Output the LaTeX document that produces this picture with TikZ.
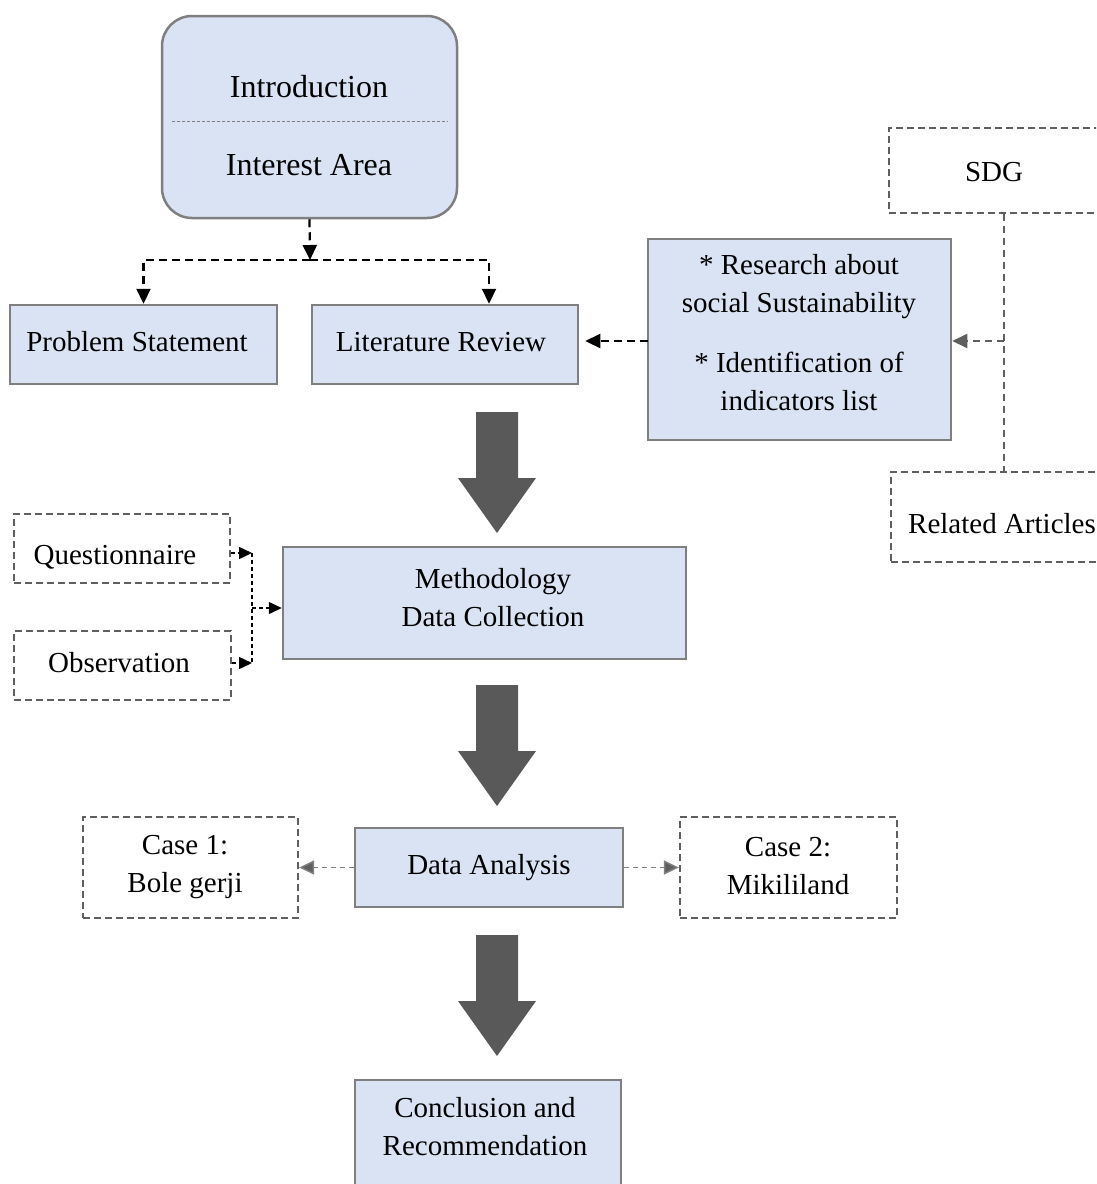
\documentclass[tikz,border=0pt]{standalone}
\usepackage{fontspec}
\setmainfont{Liberation Serif}
\usetikzlibrary{arrows.meta,calc}
\definecolor{boxfill}{HTML}{DAE3F3}
\definecolor{boxline}{HTML}{7F7F7F}
\definecolor{dashline}{HTML}{5F5F5F}
\definecolor{bigarrow}{HTML}{595959}
\begin{document}
\begin{tikzpicture}[x=1pt,y=-1pt,
  txt/.style={font=\fontsize{29}{38}\selectfont, align=center, inner sep=0pt},
  bigtxt/.style={font=\fontsize{32}{38}\selectfont, align=center, inner sep=0pt},
  box/.style={draw=boxline, fill=boxfill, line width=2.5pt, txt},
  dbox/.style={draw=dashline, line width=2.3pt, dash pattern=on 7pt off 4pt, txt},
  link/.style={line width=2.2pt, dash pattern=on 8pt off 5pt, -{Triangle[length=15pt,width=14pt]}},
  slink/.style={line width=1.5pt, dash pattern=on 4pt off 3pt, -{Triangle[length=13pt,width=12pt]}},
  glink/.style={draw=dashline, line width=1.8pt, dash pattern=on 7pt off 5pt, -{Triangle[length=15pt,width=14pt,fill=dashline]}},
  hlink/.style={draw=boxline, line width=1.5pt, dash pattern=on 5pt off 4pt, -{Triangle[length=15pt,width=14pt,fill=dashline]}},
  bigarr/.style={fill=bigarrow}]
\useasboundingbox (0,0) rectangle (1096,1184);
\clip (0,0) rectangle (1096,1184);

% Intro box
\node[box, rounded corners=30pt, minimum width=295pt, minimum height=202pt] (intro) at (309.5,117) {};
\node[bigtxt] (introA) at (309,87) {Introduction};
\node[bigtxt] (introB) at (309,165) {Interest Area};
\draw[boxline, line width=1pt, dash pattern=on 3pt off 2pt] ($(intro.west)+(11,4)$) coordinate (sepL) -- ($(intro.east)+(-11,4)$) coordinate (sepR);

% Second row
\node[box, minimum width=267pt, minimum height=79pt] (ps) at (143.5,344.5) {};
\node[txt] (psT) at (137,342) {Problem Statement};
\node[box, minimum width=266pt, minimum height=79pt] (lr) at (445,344.5) {};
\node[txt] (lrT) at (441,342) {Literature Review};
\node[box, minimum width=303pt, minimum height=201pt] (res) at (799.5,339.5) {};
\node[txt] (resT) at (799,333) {* Research about\\ social Sustainability\\[22pt] * Identification of\\ indicators list};
\node[dbox, minimum width=212pt, minimum height=85pt] (sdg) at (995,170.5) {};
\node[txt] (sdgT) at (994,172) {SDG};
\node[dbox, minimum width=222pt, minimum height=90pt] (rel) at (1002,517) {};
\node[txt] (relT) at (1002,524) {Related Articles};

% top connectors
\coordinate (j) at (310,260);
\draw[link] (intro.south) -- (j);
\draw[link] (j) -| (ps.north);
\draw[link] (j) -| ([xshift=44pt]lr.north);
\coordinate (r) at (648,341);
\draw[link, shorten >=6pt] (r) -- (r -| lr.east);
\coordinate (t) at (1004,341);
\draw[draw=dashline, line width=1.8pt, dash pattern=on 7pt off 5pt] (sdg.south -| t) -- (rel.north -| t);
\draw[glink] (t) -- (t -| res.east);

% Methodology
\node[box, minimum width=403pt, minimum height=112pt] (meth) at (484.5,603) {};
\node[txt] (methT) at (493,598) {Methodology\\ Data Collection};
\node[dbox, minimum width=216pt, minimum height=69pt] (q) at (122,548.5) {};
\node[txt] (qT) at (115,557) {Questionnaire};
\node[dbox, minimum width=217pt, minimum height=69pt] (o) at (122.5,665.5) {};
\node[txt] (oT) at (119,663) {Observation};
\coordinate (qa) at (252,553);
\coordinate (oa) at (252,663);
\coordinate (ma) at (252,608);
\draw[slink] (q.east |- qa) -- (qa);
\draw[slink] (o.east |- oa) -- (oa);
\draw[line width=1.5pt, dash pattern=on 4pt off 3pt] (qa) -- (oa);
\draw[slink] (ma) -- (meth.west |- ma);

% Data analysis
\node[box, minimum width=268pt, minimum height=79pt] (da) at (489,867.5) {Data Analysis};
\node[dbox, minimum width=215pt, minimum height=101pt] (c1) at (190.5,867.5) {};
\node[txt] (c1T) at (185,867) {Case 1:\\ Bole gerji};
\node[dbox, minimum width=217pt, minimum height=101pt] (c2) at (788.5,867.5) {};
\node[txt] (c2T) at (788,866) {Case 2:\\ Mikililand};
\draw[hlink] (da.west) -- (c1.east);
\draw[hlink] (da.east) -- (c2.west);

% Conclusion
\node[box, minimum width=266pt, minimum height=130pt] (conc) at (488,1145) {};
\node[txt] (concT) at (485,1127) {Conclusion and\\ Recommendation};

% big arrows
\foreach \y in {412,685,935}{
  \fill[bigarr] (476,\y) -- (518,\y) -- (518,\y+66) -- (536,\y+66) -- (497,\y+121) -- (458,\y+66) -- (476,\y+66) -- cycle;
}
\end{tikzpicture}
\end{document}
